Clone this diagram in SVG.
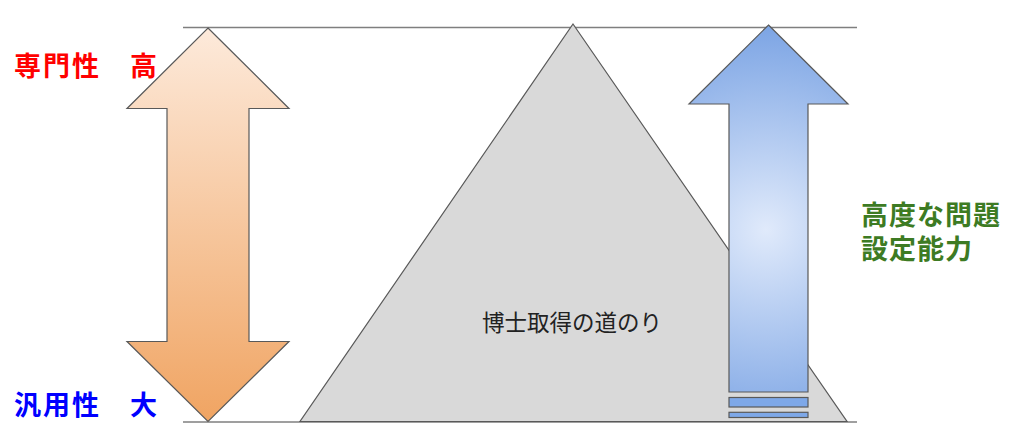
<svg xmlns="http://www.w3.org/2000/svg" width="1027" height="444" viewBox="0 0 1027 444">
<defs>
<style>
.guide{stroke:#7f7f7f;stroke-width:1.5;fill:none}
.shape{stroke:#595959;stroke-width:1.2;stroke-linejoin:miter}
.lbl{font-family:"Noto Sans CJK JP","Noto Sans",sans-serif;font-weight:bold;font-size:27px}
</style>
<linearGradient id="gOrange" x1="0" y1="28" x2="0" y2="422" gradientUnits="userSpaceOnUse">
<stop offset="0" stop-color="#fdeadb"/>
<stop offset="1" stop-color="#f0a462"/>
</linearGradient>
<radialGradient id="gBlue" cx="766" cy="230" r="215" gradientUnits="userSpaceOnUse">
<stop offset="0" stop-color="#e0eafb"/>
<stop offset="1" stop-color="#77a1e3"/>
</radialGradient>
</defs>
<rect width="1027" height="444" fill="#ffffff"/>
<g id="connectors">
<line class="guide" x1="183" y1="27.5" x2="857" y2="27.5"/>
<line class="guide" x1="183" y1="422" x2="857" y2="422"/>
</g>
<g id="pyramid">
<polygon class="shape" points="573,24 847,421.5 300,421.5" fill="#d9d9d9"/>
<text x="572" y="331" text-anchor="middle" font-family="'Noto Sans CJK JP','Noto Sans',sans-serif" font-size="22.5" fill="#222222">博士取得の道のり</text>
</g>
<g id="specialty-arrow">
<polygon class="shape" fill="url(#gOrange)" points="208,28 289,108.5 249,108.5 249,341.5 289,341.5 208,421.5 127,341.5 167,341.5 167,108.5 127,108.5"/>
</g>
<g id="problem-arrow">
<polygon class="shape" fill="url(#gBlue)" points="768.5,25 848,104 808,104 808,392 729,392 729,104 689,104"/>
<rect class="shape" x="729" y="397.5" width="79" height="9.5" fill="#7ea8e8"/>
<rect class="shape" x="729" y="412.3" width="79" height="5.2" fill="#7ea8e8"/>
</g>
<g id="label-specialty">
<text class="lbl" x="14" y="76" fill="#ff0000" letter-spacing="2">専門性　高</text>
</g>
<g id="label-general">
<text class="lbl" x="14" y="415" fill="#0000ff" letter-spacing="2">汎用性　大</text>
</g>
<g id="label-ability">
<text class="lbl" x="861" y="225" fill="#3d7b23" letter-spacing="1">高度な問題</text>
<text class="lbl" x="861" y="259" fill="#3d7b23" letter-spacing="1">設定能力</text>
</g>
</svg>
